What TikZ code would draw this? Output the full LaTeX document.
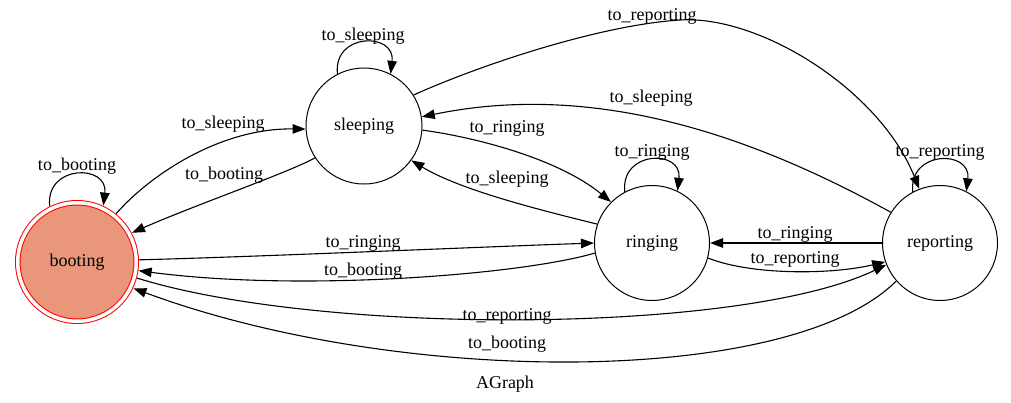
\documentclass[tikz,border=0pt]{standalone}
\usepackage{fontspec}
\setmainfont{Liberation Serif}
\usetikzlibrary{arrows.meta}
\definecolor{bootfill}{RGB}{233,150,122}

\begin{document}
\begin{tikzpicture}[x=1pt,y=1pt,
    state/.style={circle,draw,line width=1pt,inner sep=0pt,font=\fontsize{18}{20}\selectfont},
    lbl/.style={inner sep=0pt,font=\fontsize{18}{20}\selectfont},
    edge/.style={line width=1.1pt,-{Triangle[length=13pt,width=9.5pt]}}]
  \useasboundingbox (0,0) rectangle (1011,-402);
  \node[state,draw=red,fill=bootfill,double=white,double distance=3.5pt,
    minimum size=118.5pt,outer sep=3pt] (booting) at (77,-262) {booting};
  \node[state,minimum size=116pt] (sleeping) at (364,-126) {sleeping};
  \node[state,minimum size=115pt] (ringing) at (652,-243) {ringing};
  \node[state,minimum size=115pt] (reporting) at (940,-243) {reporting};
  \coordinate (topbend) at (680,-20);
  % loops
  \draw[edge] (booting.116) .. controls +(96:42) and +(83:42) .. (booting.65);
  \draw[edge] (sleeping.117) .. controls +(96:42) and +(83:42) .. (sleeping.63);
  \draw[edge] (ringing.118) .. controls +(96:42) and +(83:42) .. (ringing.64);
  \draw[edge] (reporting.118) .. controls +(96:42) and +(83:42) .. (reporting.63);
  % booting <-> sleeping
  \draw[edge] (booting.51) .. controls (150,-175) and (220,-128) .. (sleeping.183);
  \draw[edge] (sleeping.213) .. controls (290,-172) and (195,-205) .. (booting.28);
  % sleeping <-> reporting
  \draw[edge] (sleeping.32) .. controls (480,-65) and (600,-25) .. (topbend)
    .. controls (760,-15) and (880,-90) .. (reporting.111);
  \draw[edge] (reporting.148) .. controls (760,-140) and (600,-80) .. (sleeping.9);
  % sleeping <-> ringing
  \draw[edge] (sleeping.356) .. controls (480,-138) and (560,-160) .. (ringing.135);
  \draw[edge] (ringing.161) .. controls (540,-210) and (460,-190) .. (sleeping.324);
  % booting <-> ringing
  \draw[edge] (booting.2) .. controls (250,-257) and (480,-247) .. (ringing.180);
  \draw[edge] (ringing.190) .. controls (520,-275) and (300,-292) .. (booting.352);
  % ringing <-> reporting
  \draw[edge] (reporting.180) -- (ringing.0);
  \draw[edge] (ringing.345) .. controls (750,-275) and (830,-275) .. (reporting.199);
  % booting <-> reporting
  \draw[edge] (booting.345) .. controls (320,-335) and (740,-335) .. (reporting.202);
  \draw[edge] (reporting.221) .. controls (790,-387) and (400,-387) .. (booting.335);
  % labels
  \node[lbl] (lbBB) at (77,-166.5) {to\_booting};
  \node[lbl] (lbSS) at (363,-36.5) {to\_sleeping};
  \node[lbl] (lbRR) at (652,-152.5) {to\_ringing};
  \node[lbl] (lbPP) at (940,-152.5) {to\_reporting};
  \node[lbl] (lbBS) at (223,-124.5) {to\_sleeping};
  \node[lbl] (lbSB) at (224,-175.5) {to\_booting};
  \node[lbl] (lbSP) at (652,-16.5) {to\_reporting};
  \node[lbl] (lbPS) at (651,-98.5) {to\_sleeping};
  \node[lbl] (lbSR) at (507,-128.5) {to\_ringing};
  \node[lbl] (lbRS) at (507,-179.5) {to\_sleeping};
  \node[lbl] (lbBR) at (363,-243.5) {to\_ringing};
  \node[lbl] (lbRB) at (363,-271.5) {to\_booting};
  \node[lbl] (lbPR) at (795,-234.5) {to\_ringing};
  \node[lbl] (lbRP) at (795,-259.5) {to\_reporting};
  \node[lbl] (lbBP) at (507,-316.5) {to\_reporting};
  \node[lbl] (lbPB) at (507,-344.5) {to\_booting};
  \node[lbl] (title) at (505,-384.5) {AGraph};
\end{tikzpicture}
\end{document}
